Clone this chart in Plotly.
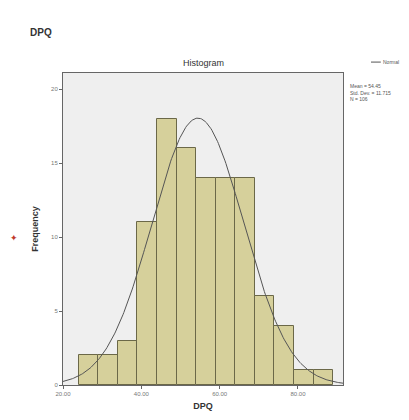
import numpy as np
import plotly.graph_objects as go

# Histogram data
bin_starts = [24, 29, 34, 39, 44, 49, 54, 59, 64, 69, 74, 79, 84]
counts = [2, 2, 3, 11, 18, 16, 14, 14, 14, 6, 4, 1, 1]
bin_width = 5
mean_val = 54.45
sd_val = 11.715
n_val = 106
x_tickvals = [20, 40, 60, 80]
x_ticktext = ["20.00", "40.00", "60.00", "80.00"]
y_tickvals = [0, 5, 10, 15, 20]

centers = [s + bin_width / 2 for s in bin_starts]

fig = go.Figure()
fig.add_trace(go.Bar(
    x=centers, y=counts, width=[bin_width] * len(counts),
    marker=dict(color="#d6d09b", line=dict(color="#6b6848", width=1)),
    showlegend=False,
))

xc = np.linspace(20, 91.5, 300)
yc = n_val * bin_width / (sd_val * np.sqrt(2 * np.pi)) * np.exp(-0.5 * ((xc - mean_val) / sd_val) ** 2)
fig.add_trace(go.Scatter(x=xc, y=yc, mode="lines",
                         line=dict(color="#555555", width=1), showlegend=False))

font = "Liberation Sans, Arial, sans-serif"
fig.update_layout(
    width=409, height=420,
    margin=dict(l=55, r=74, t=65, b=43),
    paper_bgcolor="white", plot_bgcolor="#efefef",
    bargap=0,
    font=dict(family=font, size=6, color="#666666"),
    xaxis=dict(range=[20, 91.5], tickvals=x_tickvals, ticktext=x_ticktext,
               showgrid=False, zeroline=False, showline=True, mirror=True,
               linecolor="#666666", linewidth=1, ticks="outside", ticklen=3,
               tickcolor="#666666", tickfont=dict(size=6, color="#777777"),
               title=dict(text="<b>DPQ</b>", font=dict(size=9, color="#333333"), standoff=6)),
    yaxis=dict(range=[0, 21.1], tickvals=y_tickvals,
               showgrid=False, zeroline=False, showline=True, mirror=True,
               linecolor="#666666", linewidth=1, ticks="outside", ticklen=3,
               tickcolor="#666666", tickfont=dict(size=6, color="#777777"),
               title=dict(text="<b>Frequency</b>", font=dict(size=9, color="#333333"), standoff=10)),
)

fig.add_annotation(text="<b>DPQ</b>", xref="paper", yref="paper", x=-0.125, y=1.131,
                   xanchor="left", yanchor="middle", showarrow=False,
                   font=dict(size=10, color="#333333"))
fig.add_annotation(text="Histogram", xref="paper", yref="paper", x=0.5, y=1.0,
                   xanchor="center", yanchor="bottom", yshift=3, showarrow=False,
                   font=dict(size=9, color="#333333"))
fig.add_annotation(text="Mean = 54.45<br>Std. Dev. = 11.715<br>N = 106",
                   xref="paper", yref="paper", x=1.0, y=0.975, xshift=5,
                   xanchor="left", yanchor="top", align="left", showarrow=False,
                   font=dict(size=5, color="#555555"))
fig.add_annotation(text="Normal", xref="paper", yref="paper", x=1.0, y=1.035, xshift=38,
                   xanchor="left", yanchor="middle", showarrow=False,
                   font=dict(size=5, color="#555555"))
fig.add_shape(type="line", xref="paper", yref="paper", x0=1.1, x1=1.135, y0=1.035, y1=1.035,
              line=dict(color="#555555", width=1))
fig.add_annotation(text="✦", xref="paper", yref="paper", x=-0.175, y=0.47,
                   xanchor="center", yanchor="middle", showarrow=False,
                   font=dict(size=9, color="#c0392b"))

fig.write_html("out.html")
